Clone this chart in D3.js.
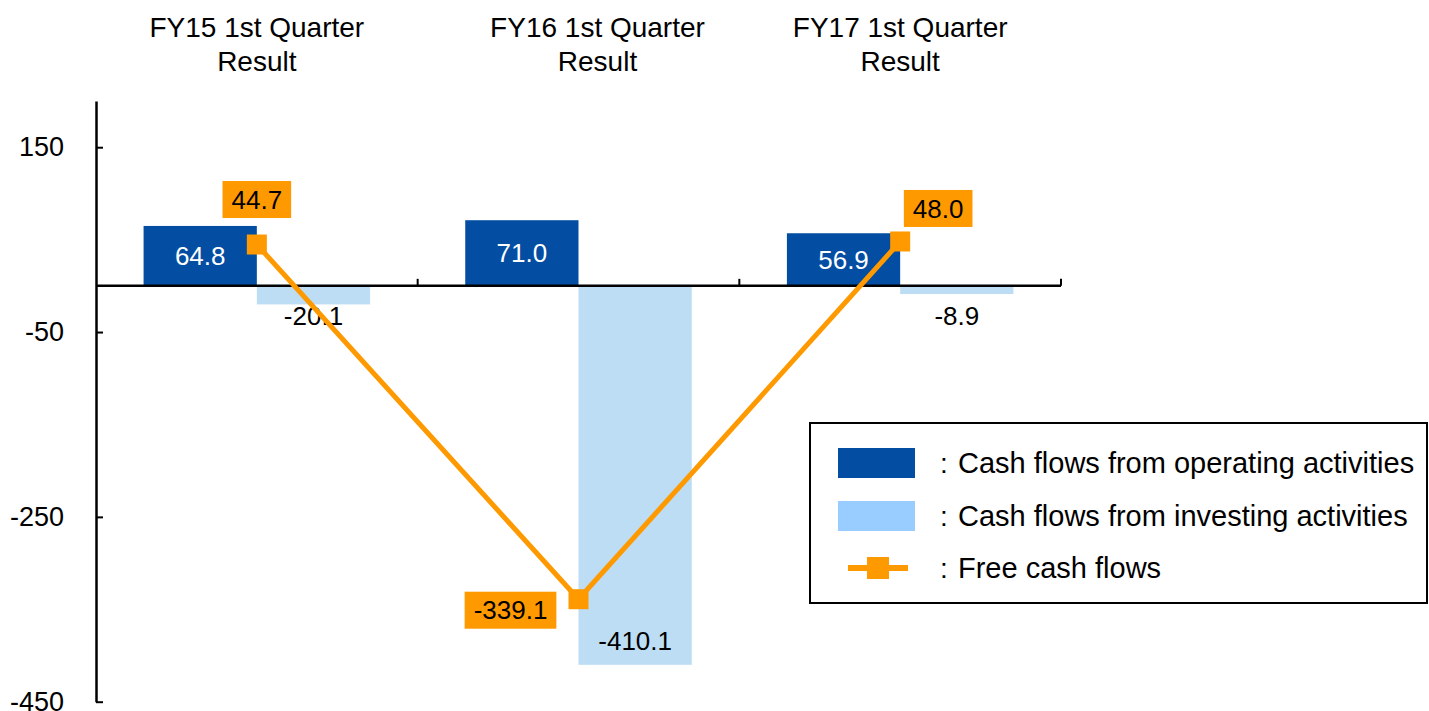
<!DOCTYPE html>
<html>
<head>
<meta charset="utf-8">
<script src="https://cdn.jsdelivr.net/npm/d3@7"></script>
<style>
	body { margin: 0; background: #fff; }
	svg { font-family: Arial, "Liberation Sans", sans-serif; }
</style>
</head>
<body>
<div id="chart"></div>
<script>
// Data
const categories = ['FY15 1st Quarter', 'FY16 1st Quarter', 'FY17 1st Quarter']
const categorySub = ['Result', 'Result', 'Result']
const operating = [64.8, 71.0, 56.9]
const investing = [-20.1, -410.1, -8.9]
const freeCash = [44.7, -339.1, 48.0]
const yTicks = [150, -50, -250, -450]
const seriesNames = [
	'Cash flows from operating activities',
	'Cash flows from investing activities',
	'Free cash flows'
]

const width = 1429
const height = 711
const colors = { op: '#034EA2', inv: '#BDDDF4', invLegend: '#99CCFF', fcf: '#FF9900' }

const svg =
	d3.select('#chart')
		.append('svg')
		.attr('width', width)
		.attr('height', height)

// Scales
const x =
	d3.scaleBand()
		.domain(categories)
		.range([96, 1061])
		.paddingInner(0)
		.paddingOuter(0)

const xInner =
	d3.scaleBand()
		.domain(['op', 'inv'])
		.range([0, x.bandwidth()])
		.paddingInner(0)
		.paddingOuter(0.42)

const y =
	d3.scaleLinear()
		.domain([-450, 200])
		.range([701.7, 101])

const groups = categories.map((c, i) => ({
	cat: c,
	sub: categorySub[i],
	op: operating[i],
	inv: investing[i],
	fcf: freeCash[i]
}))

// Y axis
const yAxis =
	svg
		.append('g')
		.attr('transform', `translate(${x.range()[0]},0)`)
		.call(
			d3.axisLeft(y)
				.tickValues(yTicks)
				.tickSizeInner(-7)
				.tickSizeOuter(0)
				.tickPadding(32)
				.tickFormat(d => String(d))
		)

yAxis.select('.domain').attr('stroke', '#000').attr('stroke-width', 2.5)
yAxis.selectAll('.tick line').attr('stroke', '#000').attr('stroke-width', 2)
yAxis.selectAll('.tick text')
	.attr('fill', '#000')
	.style('font-size', '27px')
	.style('font-family', 'Arial, "Liberation Sans", sans-serif')

// Bars
const bars =
	svg
		.append('g')
		.selectAll('g.group')
		.data(groups)
		.enter()
		.append('g')
		.attr('class', 'group')
		.attr('transform', d => `translate(${x(d.cat)},0)`)

bars
	.append('rect')
	.attr('x', xInner('op'))
	.attr('width', xInner.bandwidth())
	.attr('y', d => y(Math.max(0, d.op)))
	.attr('height', d => Math.abs(y(d.op) - y(0)))
	.attr('fill', colors.op)

bars
	.append('rect')
	.attr('x', xInner('inv'))
	.attr('width', xInner.bandwidth())
	.attr('y', d => y(Math.max(0, d.inv)))
	.attr('height', d => Math.abs(y(d.inv) - y(0)))
	.attr('fill', colors.inv)

// Bar labels
bars
	.append('text')
	.attr('x', xInner('op') + xInner.bandwidth() / 2)
	.attr('y', d => (y(d.op) + y(0)) / 2)
	.attr('dy', '0.35em')
	.attr('text-anchor', 'middle')
	.attr('fill', '#fff')
	.style('font-size', '26px')
	.text(d => d.op.toFixed(1))

bars
	.append('text')
	.attr('x', xInner('inv') + xInner.bandwidth() / 2)
	.attr('y', d => {
		const len = y(d.inv) - y(0)
		return len > 60 ? y(d.inv) - 24 : y(0) + 30
	})
	.attr('dy', '0.35em')
	.attr('text-anchor', 'middle')
	.attr('fill', '#000')
	.style('font-size', '26px')
	.text(d => d.inv.toFixed(1))

// Zero line with category ticks
const zero = y(0)
svg
	.append('line')
	.attr('x1', x.range()[0])
	.attr('x2', x.range()[1])
	.attr('y1', zero)
	.attr('y2', zero)
	.attr('stroke', '#000')
	.attr('stroke-width', 2.5)

svg
	.append('g')
	.selectAll('line')
	.data(categories)
	.enter()
	.append('line')
	.attr('x1', d => x(d) + x.bandwidth())
	.attr('x2', d => x(d) + x.bandwidth())
	.attr('y1', zero)
	.attr('y2', zero - 7)
	.attr('stroke', '#000')
	.attr('stroke-width', 2)

// Category headers
const headerNudge = [0, 19, 0]
const headers =
	svg
		.append('g')
		.selectAll('text')
		.data(groups)
		.enter()
		.append('text')
		.attr('text-anchor', 'middle')
		.attr('x', (d, i) => x(d.cat) + x.bandwidth() / 2 + headerNudge[i])
		.attr('y', 37)
		.style('font-size', '28px')
		.attr('fill', '#000')

headers.append('tspan').text(d => d.cat)
headers
	.append('tspan')
	.attr('x', (d, i) => x(d.cat) + x.bandwidth() / 2 + headerNudge[i])
	.attr('dy', 34)
	.text(d => d.sub)

// Free cash flow line
const cx = d => x(d.cat) + x.bandwidth() / 2
const line =
	d3.line()
		.x(cx)
		.y(d => y(d.fcf))

svg
	.append('path')
	.datum(groups)
	.attr('d', line)
	.attr('fill', 'none')
	.attr('stroke', colors.fcf)
	.attr('stroke-width', 5)

const marker = 20
svg
	.append('g')
	.selectAll('rect')
	.data(groups)
	.enter()
	.append('rect')
	.attr('x', d => cx(d) - marker / 2)
	.attr('y', d => y(d.fcf) - marker / 2)
	.attr('width', marker)
	.attr('height', marker)
	.attr('fill', colors.fcf)

// Free cash flow labels (boxed)
const fcfShift = [[0, -45], [-68, 11], [38, -33]]
const fcfLabels =
	svg
		.append('g')
		.selectAll('g')
		.data(groups)
		.enter()
		.append('g')
		.attr('transform', (d, i) => `translate(${cx(d) + fcfShift[i][0]},${y(d.fcf) + fcfShift[i][1]})`)

fcfLabels
	.append('rect')
	.attr('fill', colors.fcf)

fcfLabels
	.append('text')
	.attr('text-anchor', 'middle')
	.attr('dy', '0.35em')
	.attr('fill', '#000')
	.style('font-size', '26px')
	.text(d => d.fcf.toFixed(1))

fcfLabels.each(function() {
	const g = d3.select(this)
	const box = g.select('text').node().getBBox()
	g.select('rect')
		.attr('x', box.x - 9)
		.attr('y', -18.5)
		.attr('width', box.width + 18)
		.attr('height', 37)
})

// Legend
const legend =
	svg
		.append('g')
		.attr('class', 'legend')

legend
	.append('rect')
	.attr('x', 810)
	.attr('y', 423)
	.attr('width', 617)
	.attr('height', 180)
	.attr('fill', '#fff')
	.attr('stroke', '#000')
	.attr('stroke-width', 2)

const legendRows = [463, 516, 568]

legend
	.append('rect')
	.attr('x', 838)
	.attr('y', legendRows[0] - 15)
	.attr('width', 77)
	.attr('height', 30)
	.attr('fill', colors.op)

legend
	.append('rect')
	.attr('x', 838)
	.attr('y', legendRows[1] - 15)
	.attr('width', 77)
	.attr('height', 30)
	.attr('fill', colors.invLegend)

legend
	.append('line')
	.attr('x1', 848)
	.attr('x2', 908)
	.attr('y1', legendRows[2])
	.attr('y2', legendRows[2])
	.attr('stroke', colors.fcf)
	.attr('stroke-width', 6)

legend
	.append('rect')
	.attr('x', 878 - 11)
	.attr('y', legendRows[2] - 11)
	.attr('width', 22)
	.attr('height', 22)
	.attr('fill', colors.fcf)

legend
	.selectAll('text.colon')
	.data(seriesNames)
	.enter()
	.append('text')
	.attr('class', 'colon')
	.attr('x', 940)
	.attr('y', (d, i) => legendRows[i])
	.attr('dy', '0.35em')
	.style('font-size', '28px')
	.text(':')

legend
	.selectAll('text.name')
	.data(seriesNames)
	.enter()
	.append('text')
	.attr('class', 'name')
	.attr('x', 958)
	.attr('y', (d, i) => legendRows[i])
	.attr('dy', '0.35em')
	.style('font-size', '29px')
	.text(d => d)
</script>
</body>
</html>
